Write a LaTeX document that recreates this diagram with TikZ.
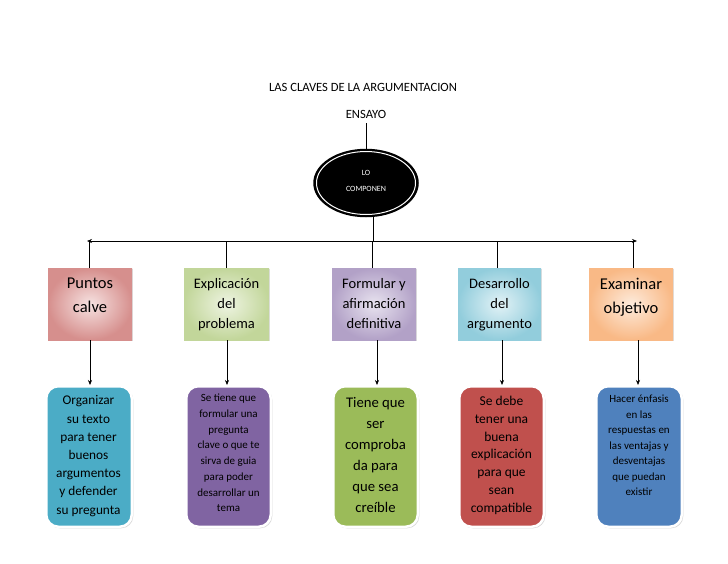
\documentclass[tikz,border=0pt]{standalone}
\usepackage{fontspec}
\setmainfont{Carlito}
\usetikzlibrary{shapes.geometric,arrows.meta,shadows}
\definecolor{c1in}{HTML}{F6E2E1}\definecolor{c1out}{HTML}{D68F8D}
\definecolor{c2in}{HTML}{EEF4E2}\definecolor{c2out}{HTML}{C2D69A}
\definecolor{c3in}{HTML}{E8E3EF}\definecolor{c3out}{HTML}{B2A1C7}
\definecolor{c4in}{HTML}{E2F2F6}\definecolor{c4out}{HTML}{92CDDC}
\definecolor{c5in}{HTML}{FDEBDC}\definecolor{c5out}{HTML}{F9B986}
\definecolor{b1c}{HTML}{4BACC6}
\definecolor{b2c}{HTML}{8064A2}
\definecolor{b3c}{HTML}{9BBB59}
\definecolor{b4c}{HTML}{C0504D}
\definecolor{b5c}{HTML}{4F81BD}
\begin{document}
\begin{tikzpicture}[x=1pt,y=-1pt,
 lbl/.style={inner sep=0pt, align=center, text=black},
 topbox/.style={rectangle, minimum width=#1, minimum height=72pt, inner sep=0pt,
   drop shadow={opacity=0.25,shadow xshift=1.2pt,shadow yshift=-1.2pt}},
 botbox/.style={rectangle, rounded corners=12pt, draw=white, line width=2.5pt,
   minimum width=#1, minimum height=140.5pt, inner sep=0pt,
   drop shadow={opacity=0.3,shadow xshift=1.5pt,shadow yshift=-1.5pt}},
 conn/.style={line width=0.6pt, black},
 tip/.style={Stealth[length=5pt,width=4pt]},
 arr/.style={conn, -{Stealth[length=5pt,width=4pt]}}
]
\useasboundingbox (0,0) rectangle (728,563);
\fill[white] (0,0) rectangle (728,563);

% title
\node[lbl, font=\fontsize{12.6}{15}\selectfont] (title) at (363,87) {LAS CLAVES DE LA ARGUMENTACION};
\node[lbl, font=\fontsize{12.6}{15}\selectfont] (ensayo) at (366,114) {ENSAYO};

% ellipse
\node[ellipse, fill=black, draw=black, line width=1.5pt, minimum width=104pt, minimum height=67pt, inner sep=0pt] (e) at (366,183) {};
\draw[white, line width=1pt] (e.center) ellipse [x radius=49.5pt, y radius=31.5pt];
\node[lbl, text=white, font=\fontsize{8}{15.5}\selectfont, anchor=north] (etxt) at (366,170.6) {LO\\COMPONEN};

\draw[conn] ([yshift=-5pt]ensayo.south) -- (e.north);
\coordinate (ebot) at (373,216);
\coordinate (bar) at (373,241);
\draw[conn] (ebot) -- (bar);

\coordinate (hl) at (87,241);
\coordinate (hr) at (637,241);
\draw[conn, {Stealth[length=5pt,width=4pt]}-{Stealth[length=5pt,width=4pt]}] (hl) -- (hr);

% top boxes
\node[topbox=84pt, inner color=c1in, outer color=c1out] (t1) at (90,304) {};
\node[topbox=85pt, inner color=c2in, outer color=c2out] (t2) at (226.5,304) {};
\node[topbox=84pt, inner color=c3in, outer color=c3out] (t3) at (374,304) {};
\node[topbox=83pt, inner color=c4in, outer color=c4out] (t4) at (499.5,304) {};
\node[topbox=84pt, inner color=c5in, outer color=c5out] (t5) at (631,304) {};

\node[lbl, font=\fontsize{16.5}{24}\selectfont, anchor=north] (t1l) at (90,277.5) {Puntos\\calve};
\node[lbl, font=\fontsize{14.5}{20}\selectfont, anchor=north] (t2l) at (226.5,278) {Explicación\\del\\problema};
\node[lbl, font=\fontsize{14.5}{20}\selectfont, anchor=north] (t3l) at (374,278) {Formular y\\afirmación\\definitiva};
\node[lbl, font=\fontsize{14.5}{20}\selectfont, anchor=north] (t4l) at (499.5,278) {Desarrollo\\del\\argumento};
\node[lbl, font=\fontsize{16.5}{24}\selectfont, anchor=north] (t5l) at (631,277.5) {Examinar\\objetivo};

% connectors from bar to top boxes
\draw[conn] ([xshift=-1pt]t1.north) -- ([xshift=-1pt]t1.north |- hl);
\draw[conn] (t2.north) -- (t2.north |- hl);
\draw[conn] ([xshift=-2pt]t3.north) -- ([xshift=-2pt]t3.north |- hl);
\draw[conn] ([xshift=-2.5pt]t4.north) -- ([xshift=-2.5pt]t4.north |- hl);
\draw[conn] ([xshift=2pt]t5.north) -- ([xshift=2pt]t5.north |- hl);

% bottom boxes
\node[botbox=85.5pt, fill=b1c] (b1) at (89,456.5) {};
\node[botbox=84.5pt, fill=b2c] (b2) at (228.5,456.5) {};
\node[botbox=84.5pt, fill=b3c] (b3) at (375.5,456.5) {};
\node[botbox=84.5pt, fill=b4c] (b4) at (501.5,456.5) {};
\node[botbox=85.5pt, fill=b5c] (b5) at (639,456.5) {};

\node[lbl, font=\fontsize{13.3}{18.2}\selectfont, anchor=north] (b1l) at (88.5,395.5) {Organizar\\su texto\\para tener\\buenos\\argumentos\\y defender\\su pregunta};
\node[lbl, font=\fontsize{11}{15.7}\selectfont, anchor=north] (b2l) at (228.5,394) {Se tiene que\\formular una\\pregunta\\clave o que te\\sirva de guia\\para poder\\desarrollar un\\tema};
\node[lbl, font=\fontsize{14.7}{21}\selectfont, anchor=north] (b3l) at (375.5,397) {Tiene que\\ser\\comproba\\da para\\que sea\\creíble};
\node[lbl, font=\fontsize{13.5}{17.8}\selectfont, anchor=north] (b4l) at (501.5,396) {Se debe\\tener una\\buena\\explicación\\para que\\sean\\compatible};
\node[lbl, font=\fontsize{11}{15.5}\selectfont, anchor=north] (b5l) at (639,395) {Hacer énfasis\\en las\\respuestas en\\las ventajas y\\desventajas\\que puedan\\existir};

% arrows from top boxes to bottom boxes
\draw[arr] (t1.south) -- (t1.south |- b1.north);
\draw[arr] ([xshift=0.5pt]t2.south) -- ([xshift=0.5pt]t2.south |- b2.north);
\draw[arr] ([xshift=3pt]t3.south) -- ([xshift=3pt]t3.south |- b3.north);
\draw[arr] ([xshift=2.5pt]t4.south) -- ([xshift=2.5pt]t4.south |- b4.north);
\draw[arr] ([xshift=7pt]t5.south) -- ([xshift=7pt]t5.south |- b5.north);
\end{tikzpicture}
\end{document}
